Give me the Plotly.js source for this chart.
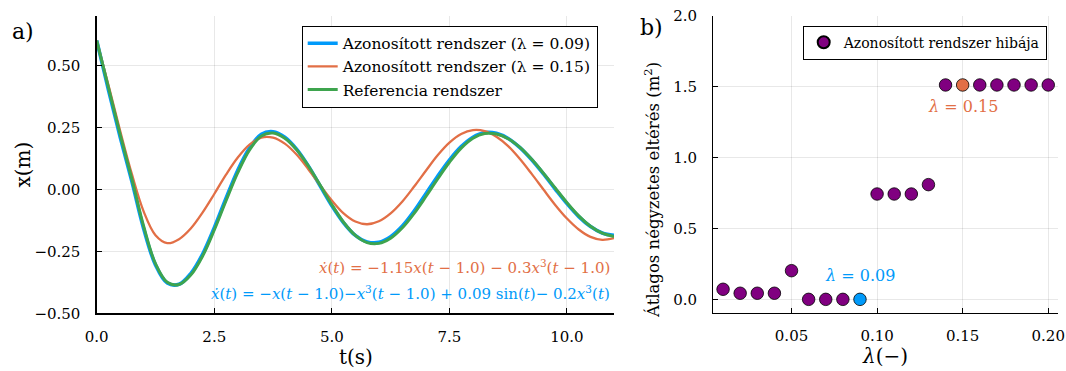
<!DOCTYPE html>
<html>
<head>
<meta charset="utf-8">
<script src="https://cdn.plot.ly/plotly-3.0.1.min.js"></script>
<style>html,body{margin:0;padding:0;background:#fff}#chart{width:1066px;height:371px}</style>
</head>
<body>
<div id="chart"></div>
<script>
// ---- data ----
var timeS = [0,0.25,0.5,0.75,1,1.25,1.5,1.75,2,2.25,2.5,2.75,3,3.25,3.5,3.75,4,4.25,4.5,4.75,5,5.25,5.5,5.75,6,6.25,6.5,6.75,7,7.25,7.5,7.75,8,8.25,8.5,8.75,9,9.25,9.5,9.75,10,10.25,10.5,10.75,11];
var xIdent009 = [0.6,0.40,0.21,0.03,-0.16,-0.305,-0.378,-0.383,-0.340,-0.262,-0.155,-0.036,0.077,0.166,0.222,0.232,0.210,0.162,0.094,0.014,-0.066,-0.135,-0.186,-0.212,-0.214,-0.191,-0.148,-0.088,-0.018,0.053,0.118,0.172,0.210,0.229,0.226,0.205,0.168,0.119,0.062,0.001,-0.058,-0.110,-0.150,-0.176,-0.186];
var xIdent015 = [0.6,0.42,0.235,0.06,-0.09,-0.185,-0.217,-0.201,-0.158,-0.094,-0.019,0.059,0.128,0.180,0.208,0.208,0.184,0.140,0.081,0.017,-0.045,-0.097,-0.130,-0.141,-0.129,-0.097,-0.049,0.011,0.075,0.137,0.188,0.223,0.239,0.235,0.212,0.174,0.122,0.062,-0.001,-0.063,-0.118,-0.162,-0.192,-0.204,-0.197];
var xReference = [0.6,0.41,0.22,0.04,-0.15,-0.30,-0.375,-0.384,-0.346,-0.270,-0.164,-0.046,0.067,0.159,0.215,0.227,0.206,0.160,0.094,0.017,-0.062,-0.133,-0.186,-0.215,-0.218,-0.197,-0.155,-0.097,-0.029,0.042,0.109,0.166,0.206,0.225,0.223,0.204,0.169,0.121,0.065,0.005,-0.054,-0.107,-0.149,-0.177,-0.190];

var lambdas = [0.01,0.02,0.03,0.04,0.05,0.06,0.07,0.08,0.09,0.10,0.11,0.12,0.13,0.14,0.15,0.16,0.17,0.18,0.19,0.20];
var mseErrors = [0.073,0.045,0.045,0.045,0.204,0.002,0.002,0.002,0.002,0.744,0.744,0.744,0.81,1.512,1.512,1.512,1.512,1.512,1.512,1.512];

var xTicksA = [0,2.5,5,7.5,10];
var yTicksA = [-0.5,-0.25,0,0.25,0.5];
var xTicksB = [0.05,0.10,0.15,0.20];
var yTicksB = [0,0.5,1.0,1.5,2.0];

// ---- styles ----
var BLUE = '#009AFA', ORANGE = '#E26F46', GREEN = '#3EA44E', PURPLE = '#800080';
var FONT = 'DejaVu Serif, serif';
var W = 1066, H = 371;
function px(x){return x/W;}
function py(y){return 1 - y/H;}

var dotColors = lambdas.map(function(l){
  if (Math.abs(l-0.09)<1e-9) return BLUE;
  if (Math.abs(l-0.15)<1e-9) return ORANGE;
  return PURPLE;
});

var traces = [
  {x: timeS, y: xIdent009, type:'scatter', mode:'lines', line:{color:BLUE,width:3.6,shape:'spline'},
   name:'Azonosított rendszer (λ = 0.09)', xaxis:'x', yaxis:'y', legend:'legend'},
  {x: timeS, y: xIdent015, type:'scatter', mode:'lines', line:{color:ORANGE,width:2.3,shape:'spline'},
   name:'Azonosított rendszer (λ = 0.15)', xaxis:'x', yaxis:'y', legend:'legend'},
  {x: timeS, y: xReference, type:'scatter', mode:'lines', line:{color:GREEN,width:3,shape:'spline'},
   name:'Referencia rendszer', xaxis:'x', yaxis:'y', legend:'legend'},
  {x: lambdas, y: mseErrors, type:'scatter', mode:'markers',
   marker:{color:dotColors,size:12.5,line:{color:'#000',width:0.8}},
   name:'Azonosított rendszer hibája', xaxis:'x2', yaxis:'y2', legend:'legend2'}
];

var axCommon = {
  showline:true, linecolor:'#000', linewidth:1.3, mirror:false,
  showgrid:true, gridcolor:'rgba(0,0,0,0.09)', gridwidth:1,
  zeroline:false, ticks:'inside', ticklen:5, tickwidth:1, tickcolor:'#000',
  tickfont:{family:FONT,size:15,color:'#000'}
};
function ax(o){var r={};for(var k in axCommon)r[k]=axCommon[k];for(var k2 in o)r[k2]=o[k2];return r;}

function ann(x,y,text,size,color,extra){
  var a={xref:'paper',yref:'paper',x:px(x),y:py(y),text:text,showarrow:false,xanchor:'center',yanchor:'middle',
    font:{family:FONT,size:size,color:color||'#000'}};
  for(var k in (extra||{}))a[k]=extra[k];
  return a;
}

var layout = {
  width:W, height:H, margin:{l:0,r:0,t:0,b:0},
  paper_bgcolor:'#fff', plot_bgcolor:'#fff', showlegend:true,
  font:{family:FONT,color:'#000'},
  xaxis: ax({domain:[px(96.7),px(614)], range:[0,11], tickvals:xTicksA, tickformat:'.1f', anchor:'y', ticklabelstandoff:9}),
  yaxis: ax({domain:[py(313.3),py(15.7)], range:[-0.5,0.7], tickvals:yTicksA, tickformat:'.2f', anchor:'x', ticklabelstandoff:12}),
  xaxis2: ax({domain:[px(713.3),px(1058)], range:[0.0043,0.2057], tickvals:xTicksB, tickformat:'.2f', anchor:'y2', ticklabelstandoff:9}),
  yaxis2: ax({domain:[py(312.7),py(15.7)], range:[-0.092,2.0], tickvals:yTicksB, tickformat:'.1f', anchor:'x2', ticklabelstandoff:12}),
  legend:{x:px(597.7), y:py(25.7), xanchor:'right', yanchor:'top', bgcolor:'#fff', bordercolor:'#000', borderwidth:1,
    font:{family:FONT,size:15.5,color:'#000'}, tracegroupgap:0, itemwidth:30},
  legend2:{x:px(1046.7), y:py(25.7), xanchor:'right', yanchor:'top', bgcolor:'#fff', bordercolor:'#000', borderwidth:1,
    font:{family:FONT,size:14,color:'#000'}, itemsizing:'constant'},
  annotations:[
    ann(22.5,31,'a)',22),
    ann(651.5,27,'b)',22),
    ann(22,164.5,'x(m)',20,'#000',{textangle:-90}),
    ann(356,357,'t(s)',20),
    ann(652,190,'Átlagos négyzetes eltérés (m<sup>2</sup>)',16.5,'#000',{textangle:-90}),
    ann(885,356,'<i>λ</i>(−)',20),
    ann(612,266.7,'<i>ẋ</i>(<i>t</i>) = −1.15<i>x</i>(<i>t</i> − 1.0) − 0.3<i>x</i><sup>3</sup>(<i>t</i> − 1.0)',15,ORANGE,{xanchor:'right'}),
    ann(612,293.3,'<i>ẋ</i>(<i>t</i>) = −<i>x</i>(<i>t</i> − 1.0)−<i>x</i><sup>3</sup>(<i>t</i> − 1.0) + 0.09 sin(<i>t</i>)− 0.2<i>x</i><sup>3</sup>(<i>t</i>)',15,BLUE,{xanchor:'right'}),
    {xref:'x2',yref:'y2',x:0.15,y:1.36,text:'<i>λ</i> = 0.15',showarrow:false,xanchor:'center',yanchor:'middle',font:{family:FONT,size:16,color:ORANGE}},
    {xref:'x2',yref:'y2',x:0.09,y:0.17,text:'<i>λ</i> = 0.09',showarrow:false,xanchor:'center',yanchor:'middle',font:{family:FONT,size:16,color:BLUE}}
  ]
};

Plotly.newPlot('chart', traces, layout, {staticPlot:true, displayModeBar:false});
</script>
</body>
</html>
